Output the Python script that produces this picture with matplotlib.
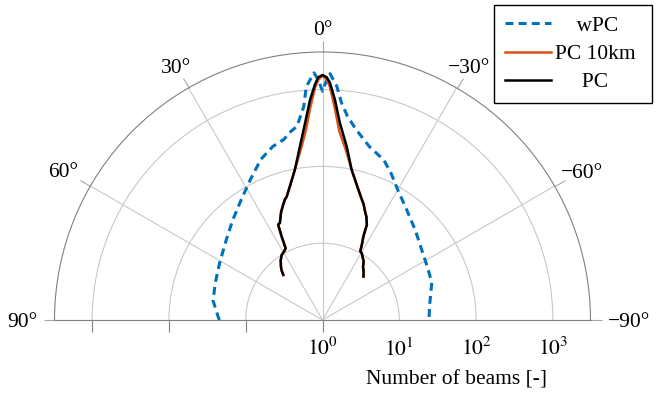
import numpy as np
import matplotlib.pyplot as plt
from matplotlib.transforms import offset_copy

plt.rcParams['font.family'] = ['Liberation Serif', 'DejaVu Serif']
plt.rcParams['mathtext.fontset'] = 'stix'

# angle in degrees (positive = left of 0°), value = number of beams
wpc_angle = [90, 88, 80, 71, 61, 50, 42, 34, 27, 21, 16, 12, 10, 7.5, 5, 4, 2, 1, 0,
             -1, -1.75, -3.5, -5, -7, -10, -15, -21, -25, -30, -37, -46, -55, -63,
             -71, -81, -88, -90]
wpc_beams = [22, 23, 28, 30, 34, 43, 56, 78, 115, 174, 224, 255, 300, 350, 620, 1100,
             1660, 1350, 950, 1350, 1620, 1120, 690, 470, 330, 220, 170, 129, 91, 65,
             48, 38, 34, 32, 26, 24.5, 24.5]

pc_angle = [41, 39.5, 37.9, 35, 32.1, 29.5, 27.2, 26.1, 24.95, 23.7, 21, 19, 17.35,
            16.2, 13.7, 10.4, 7.4, 5.08, 3.25, 1.83, 1, 0, -1, -1.81, -3.25, -5.08,
            -7.95, -11, -15.4, -18.1, -19.5, -21.4, -23, -24.95, -26.1, -27.5, -28.8,
            -30.5, -32.2, -35, -37.4, -40, -43.3]
pc_beams = [6.0, 6.9, 7.6, 8.9, 10, 10.5, 11.2, 16.2, 23.4, 24, 32, 38, 44, 47, 62,
            98, 191, 372, 741, 1175, 1450, 1550, 1450, 1230, 741, 372, 191, 98, 57.5,
            44.7, 40, 33, 29, 23.4, 16.2, 13, 10.5, 10.2, 9.5, 8.6, 7.4, 6.8, 6.0]
pc10_beams = [6.0, 6.9, 7.6, 8.9, 10, 10.5, 11.2, 16.2, 23.4, 24, 32, 38, 44, 47, 62,
              98, 168, 295, 600, 1070, 1350, 1520, 1350, 1100, 600, 295, 168, 98, 57.5,
              44.7, 40, 33, 29, 23.4, 16.2, 13, 10.5, 10.2, 9.5, 8.6, 7.4, 6.8, 6.0]

theta_ticks = [-90, -60, -30, 0, 30, 60, 90]
theta_labels = ['\u221290\u00b0', '\u221260\u00b0', '\u221230\u00b0', '0\u00b0',
                '30\u00b0', '60\u00b0', '90\u00b0']
r_ticks = [1, 10, 100, 1000]
r_labels = [r'$10^{0}$', r'$10^{1}$', r'$10^{2}$', r'$10^{3}$']
r_max = 10 ** 3.49

fs = 15.5
W, H = 659, 401
cx, cy, R = 322.5, 320, 268   # centre and outer radius in pixels
fig = plt.figure(figsize=(W / 100, H / 100), dpi=100)
# matplotlib fits a half wedge into a square box, centred vertically
ax = fig.add_axes([(cx - R) / W, (H - cy - R / 2) / H, 2 * R / W, 2 * R / H],
                  projection='polar')
ax.set_theta_zero_location('N')
ax.set_thetamin(-90)
ax.set_thetamax(90)
ax.set_rscale('log')
ax.set_rlim(1, r_max)

ax.plot(np.deg2rad(wpc_angle), wpc_beams, color='#0072BD', lw=2.2,
        ls=(0, (2.6, 1.7)), label='    wPC')
ax.plot(np.deg2rad(pc_angle), pc10_beams, color='#D95319', lw=1.8, label='PC 10km ')
ax.plot(np.deg2rad(pc_angle), pc_beams, color='black', lw=1.8, label='     PC')

ax.set_thetagrids(theta_ticks, [''] * len(theta_ticks))
ax.set_rticks(r_ticks)
ax.set_yticklabels([])
ax.grid(color='#c8c8c8', lw=0.8)
ax.tick_params(axis='x', top=True, bottom=False, direction='out', length=8,
               width=0.8, color='#a8a8a8')
ax.tick_params(axis='y', right=True, left=False, direction='out', length=8.5,
               width=0.8, color='#808080')
for s in ax.spines.values():
    s.set_color('#808080')
    s.set_linewidth(0.8)

# angle labels, placed just outside the tick ends
renderer = fig.canvas.get_renderer()
cap = 0.66 * fs * 100 / 72
for t, lab in zip(theta_ticks, theta_labels):
    th = np.deg2rad(t)
    tmp = fig.text(0, 0, lab, fontsize=fs)
    hw = tmp.get_window_extent(renderer).width / 2
    tmp.remove()
    s, c = abs(np.sin(th)), abs(np.cos(th))
    d = 17 + min(hw / s if s > 1e-6 else np.inf, (cap / 2) / c if c > 1e-6 else np.inf)
    tr = offset_copy(ax.transData, fig=fig, x=-d * np.sin(th),
                     y=d * np.cos(th) - cap / 2, units='dots')
    ax.text(th, r_max, lab, transform=tr, ha='center', va='baseline', fontsize=fs)

lab_tr = offset_copy(ax.transData, fig=fig, y=-18, units='dots')
for r, lab in zip(r_ticks, r_labels):
    ax.text(np.deg2rad(-90), r, lab, transform=lab_tr, ha='center', va='top', fontsize=fs)

fig.text(456 / W, 1 - 380 / H, 'Number of beams [-]', ha='center', va='center',
         fontsize=fs)

leg = fig.legend(loc='upper right', bbox_to_anchor=(652 / W, 1 - 5 / H),
                 fontsize=fs, frameon=True, fancybox=False, edgecolor='black',
                 framealpha=1, handlelength=2.15, labelspacing=0.38, borderaxespad=0,
                 borderpad=0.5, handletextpad=0.2)
leg.get_frame().set_linewidth(1.0)

fig.savefig('out.png', dpi=100)
